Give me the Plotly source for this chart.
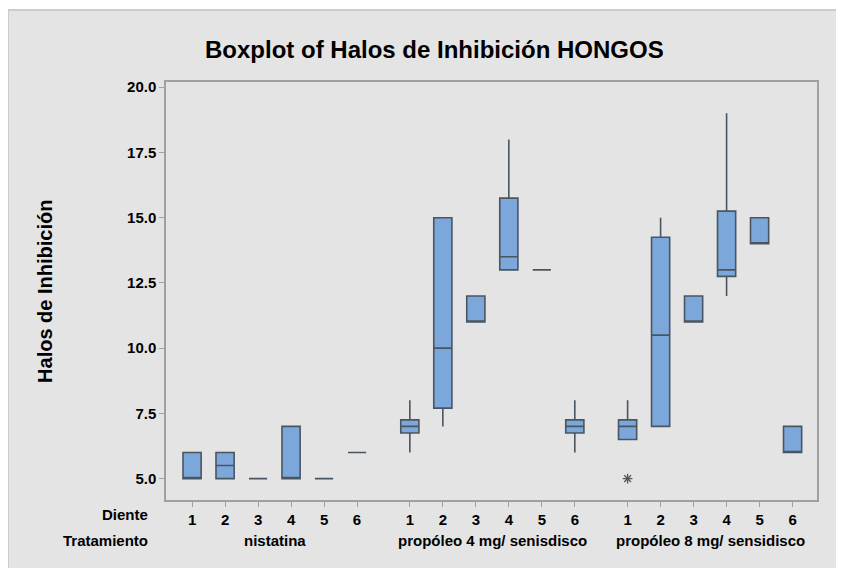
import plotly.graph_objects as go

# ── Datos (estadísticos de cada caja) ─────────────────────────────
tratamientos = ["nistatina", "propóleo 4 mg/ senisdisco", "propóleo 8 mg/ sensidisco"]
dientes = ["1", "2", "3", "4", "5", "6"]

# orden: nistatina 1-6, propóleo 4 mg 1-6, propóleo 8 mg 1-6
q1 = [5, 5, 5, 5, 5, 6,
      6.75, 7.7, 11, 13, 13, 6.75,
      6.5, 7, 11, 12.75, 14, 6]
mediana = [5, 5.5, 5, 5, 5, 6,
           7, 10, 11, 13.5, 13, 7,
           7, 10.5, 11, 13, 14, 6]
q3 = [6, 6, 5, 7, 5, 6,
      7.25, 15, 12, 15.75, 13, 7.25,
      7.25, 14.25, 12, 15.25, 15, 7]
bigote_inf = [5, 5, 5, 5, 5, 6,
              6, 7, 11, 13, 13, 6,
              6.5, 7, 11, 12, 14, 6]
bigote_sup = [6, 6, 5, 7, 5, 6,
              8, 15, 12, 18, 13, 8,
              8, 15, 12, 19, 15, 7]

# valores atípicos: (índice de caja, valor)
atipicos_idx = [12]
atipicos_val = [5]

# ── Estilo ───────────────────────────────────────────────────────
AZUL = "#7ba7da"
BORDE = "#4a5562"
GRIS_PANEL = "#e4e4e4"
FUENTE = "Liberation Sans, Arial, sans-serif"

SEP_GRUPO = 6.6   # separación entre grupos de tratamiento (unidades de eje)
posiciones = [g * SEP_GRUPO + d for g in range(len(tratamientos)) for d in range(len(dientes))]

fig = go.Figure()

fig.add_trace(go.Box(
    x=posiciones,
    q1=q1, median=mediana, q3=q3,
    lowerfence=bigote_inf, upperfence=bigote_sup,
    width=0.55,
    whiskerwidth=0,
    fillcolor=AZUL,
    line=dict(color=BORDE, width=1.6),
    boxpoints=False,
    hoverinfo="y",
    showlegend=False,
))

fig.add_trace(go.Scatter(
    x=[posiciones[i] for i in atipicos_idx],
    y=atipicos_val,
    mode="markers",
    marker=dict(symbol="asterisk-open", size=8, color="#555555",
                line=dict(color="#555555", width=1.3)),
    showlegend=False,
))

# etiquetas de tratamiento (centradas en cada grupo)
anotaciones = []
for g, nombre in enumerate(tratamientos):
    anotaciones.append(dict(
        x=g * SEP_GRUPO + 2.5, xref="x", y=-0.098, yref="paper",
        text=f"<b>{nombre}</b>", showarrow=False,
        font=dict(size=15, color="black", family=FUENTE),
        xanchor="center", yanchor="middle",
    ))
anotaciones.append(dict(
    x=-0.025, xref="paper", y=-0.034, yref="paper",
    text="<b>Diente</b>", showarrow=False,
    font=dict(size=15, color="black", family=FUENTE),
    xanchor="right", yanchor="middle",
))
anotaciones.append(dict(
    x=-0.025, xref="paper", y=-0.098, yref="paper",
    text="<b>Tratamiento</b>", showarrow=False,
    font=dict(size=15, color="black", family=FUENTE),
    xanchor="right", yanchor="middle",
))
anotaciones.append(dict(
    x=-0.186, xref="paper", y=0.5, yref="paper",
    text="<b>Halos de Inhibición</b>", showarrow=False, textangle=-90,
    font=dict(size=20, color="black", family=FUENTE),
    xanchor="center", yanchor="middle",
))

fig.update_layout(
    width=836, height=560,
    margin=dict(l=158, r=27, t=74, b=68),
    paper_bgcolor="white",
    plot_bgcolor="white",
    font=dict(family=FUENTE, color="black"),
    title=dict(text="<b>Boxplot of Halos de Inhibición HONGOS</b>",
               x=0.51, xanchor="center", y=0.925, yanchor="middle",
               font=dict(size=24, family=FUENTE, color="black")),
    annotations=anotaciones,
    shapes=[dict(type="rect", xref="paper", yref="paper",
                 x0=-0.2427, x1=1.06, y0=-0.2, y1=1.172,
                 fillcolor=GRIS_PANEL, line=dict(color="#cccccc", width=2),
                 layer="below")],
)

fig.update_xaxes(
    range=[-0.79, 18.94],
    tickvals=posiciones,
    ticktext=[f"<b>{d}</b>" for d in dientes] * len(tratamientos),
    tickfont=dict(size=15, family=FUENTE, color="black"),
    ticks="outside", ticklen=5, tickcolor="#a0a0a0",
    showline=True, linecolor="#a0a0a0", linewidth=1.5, mirror=True,
    showgrid=False, zeroline=False,
)
fig.update_yaxes(
    range=[4.18, 20.2],
    tickvals=[5, 7.5, 10, 12.5, 15, 17.5, 20],
    ticktext=["<b>5.0</b>", "<b>7.5</b>", "<b>10.0</b>", "<b>12.5</b>",
              "<b>15.0</b>", "<b>17.5</b>", "<b>20.0</b>"],
    tickfont=dict(size=15, family=FUENTE, color="black"),
    ticks="outside", ticklen=5, tickcolor="#a0a0a0",
    showline=True, linecolor="#a0a0a0", linewidth=1.5, mirror=True,
    showgrid=False, zeroline=False,
)

fig.write_html("out.html")
